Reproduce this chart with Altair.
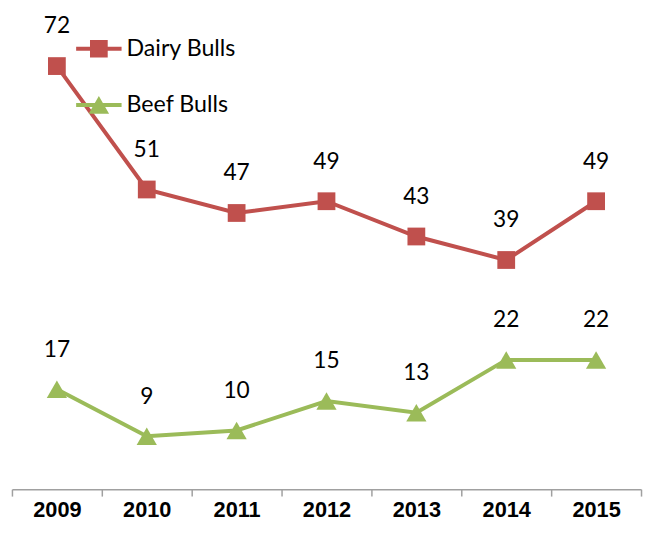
import altair as alt
import pandas as pd

years = ["2009", "2010", "2011", "2012", "2013", "2014", "2015"]
dairy = [72, 51, 47, 49, 43, 39, 49]
beef = [17, 9, 10, 15, 13, 22, 22]
series_names = ["Dairy Bulls", "Beef Bulls"]
series_colors = ["#C0504D", "#9BBB59"]

rows = []
for y, v in zip(years, dairy):
    rows.append({"year": y, "value": v, "series": "Dairy Bulls"})
for y, v in zip(years, beef):
    rows.append({"year": y, "value": v, "series": "Beef Bulls"})
df = pd.DataFrame(rows)

x = alt.X("year:N", sort=years, title=None,
          scale=alt.Scale(paddingInner=0, paddingOuter=0),
          axis=alt.Axis(labelAngle=0,
                        labelFont="Liberation Sans",
                        labelFontWeight="bold", labelFontSize=22, labelColor="#000000",
                        domainColor="#A0A0A0", tickColor="#A0A0A0", domainWidth=1.5,
                        tickWidth=1.5, tickSize=7, tickBand="extent", labelPadding=4,
                        grid=False))
y = alt.Y("value:Q", title=None, axis=None, scale=alt.Scale(domain=[0, 81], nice=False, zero=True))

base = alt.Chart(df)
dairy_only = base.transform_filter(alt.datum.series == "Dairy Bulls")
beef_only = base.transform_filter(alt.datum.series == "Beef Bulls")

line_d = dairy_only.mark_line(strokeWidth=4, color=series_colors[0]).encode(x=x, y=y)
line_b = beef_only.mark_line(strokeWidth=4, color=series_colors[1]).encode(x=x, y=y)
sq = dairy_only.mark_point(shape="square", filled=True, size=324, opacity=1,
                           color=series_colors[0]).encode(x=x, y=y)
tri = beef_only.mark_point(shape="triangle-up", filled=True, size=420, opacity=1,
                           color=series_colors[1]).encode(x=x, y=y)

labels = base.mark_text(font="Lato", fontSize=23, color="#000000",
                        baseline="middle", dy=-40).encode(x=x, y=y, text="value:Q")

legend_paths = [
    "M-1,-0.087H1V0.087H-1Z M-0.39,-0.39H0.39V0.39H-0.39Z",
    "M-1,-0.087H1V0.087H-1Z M0,-0.40L0.45,0.38H-0.45Z",
]
leg = alt.Legend(title=None, orient="none", legendX=65, legendY=13,
                 labelFont="Lato", labelFontSize=23.5, labelColor="#000000",
                 symbolSize=2116, symbolStrokeWidth=0, symbolOpacity=1,
                 rowPadding=22, labelOffset=5, padding=0)
legend_layer = base.mark_point(filled=True, size=2116, opacity=0).encode(
    x=x, y=y,
    color=alt.Color("series:N", scale=alt.Scale(domain=series_names, range=series_colors), legend=leg),
    shape=alt.Shape("series:N", scale=alt.Scale(domain=series_names, range=legend_paths), legend=leg),
)

chart = alt.layer(line_d, line_b, sq, tri, labels, legend_layer).properties(
    width=643, height=516, background="white",
    padding={"left": 3, "top": 2, "right": 1, "bottom": 0},
    autosize=alt.AutoSizeParams(type="fit", contains="padding"),
).configure_view(stroke=None)

chart.save("out.html", embed_options={"renderer": "svg", "actions": False})
